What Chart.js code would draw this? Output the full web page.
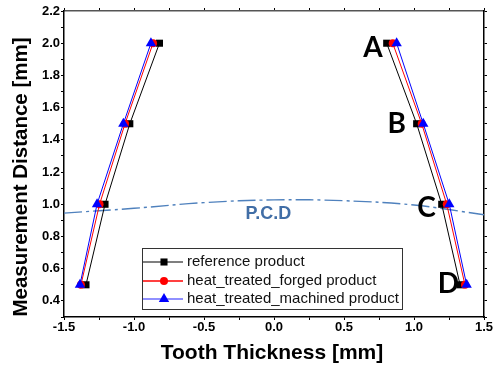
<!DOCTYPE html>
<html>
<head>
<meta charset="utf-8">
<script src="https://cdn.jsdelivr.net/npm/chart.js@4.4.1/dist/chart.umd.min.js"></script>
<style>
  html, body { margin: 0; padding: 0; background: #fff; }
  #wrap { width: 497px; height: 367px; position: relative; }
</style>
</head>
<body>
<div id="wrap"><canvas id="chart"></canvas></div>
<script>
// measurement levels (top to bottom) and tooth thickness readings, left and right flank
const yLevels = [2.0, 1.5, 1.0, 0.5];
const refLeft = [-0.818, -1.03, -1.207, -1.343];
const refRight = [0.805, 1.019, 1.198, 1.329];
const forgedLeft = [-0.864, -1.064, -1.246, -1.379];
const forgedRight = [0.848, 1.055, 1.234, 1.364];
const machinedLeft = [-0.879, -1.076, -1.264, -1.386];
const machinedRight = [0.876, 1.066, 1.252, 1.376];

// pitch circle trace
const pcdX = [-1.5, -1.0, -0.5, 0, 0.5, 1.0, 1.5];
const pcdY = [0.945, 0.975, 1.01, 1.027, 1.022, 0.995, 0.935];

// point labels
const letterText = ['A', 'B', 'C', 'D'];
const letterX = [0.707, 0.876, 1.09, 1.245];
const letterY = [1.97, 1.50, 0.975, 0.505];

const seriesNames = ['reference product', 'heat_treated_forged product', 'heat_treated_machined product'];

function flankPoints(left, right) {
    const pts = left.map((x, i) => ({ x, y: yLevels[i] }));
    pts.push({ x: 0, y: null });
    right.forEach((x, i) => pts.push({ x, y: yLevels[i] }));
    return pts;
}

const series = [
    { name: seriesNames[0], pts: flankPoints(refLeft, refRight), color: '#000000', legendLine: '#555555', style: 'rect', radius: 5, order: 3 },
    { name: seriesNames[1], pts: flankPoints(forgedLeft, forgedRight), color: '#ff0000', legendLine: '#ff0000', style: 'circle', radius: 4, order: 2 },
    { name: seriesNames[2], pts: flankPoints(machinedLeft, machinedRight), color: '#0000ff', legendLine: '#6b6bff', style: 'triangle', radius: 6, order: 1 },
];

const datasets = series.map(s => ({
    label: s.name,
    data: s.pts,
    borderColor: s.color,
    backgroundColor: s.color,
    borderWidth: 1,
    pointStyle: s.style,
    pointRadius: s.radius,
    pointBorderWidth: 0,
    spanGaps: false,
    tension: 0,
    order: s.order,
}));

datasets.push({
    label: 'P.C.D',
    data: pcdX.map((x, i) => ({ x, y: pcdY[i] })),
    borderColor: '#4f81bd',
    borderWidth: 1.4,
    borderDash: [18, 4, 3, 4],
    pointRadius: 0,
    tension: 0.4,
    order: 10,
});

const overlay = {
    id: 'overlay',
    afterDatasetsDraw(chart) {
        const { ctx, scales: { x, y } } = chart;
        ctx.save();

        // P.C.D label
        ctx.fillStyle = '#416ea6';
        ctx.font = 'bold 18px "Liberation Sans", Arial, sans-serif';
        ctx.textAlign = 'center';
        ctx.textBaseline = 'middle';
        ctx.fillText('P.C.D', x.getPixelForValue(-0.04), y.getPixelForValue(0.94));

        // A B C D
        ctx.fillStyle = '#000';
        ctx.font = 'bold 28px Lato, "Open Sans", sans-serif';
        letterText.forEach((t, i) => {
            ctx.fillText(t, x.getPixelForValue(letterX[i]), y.getPixelForValue(letterY[i]));
        });

        // legend box
        const bx = 142, by = 248, bw = 260, bh = 61;
        ctx.fillStyle = '#fff';
        ctx.fillRect(bx, by, bw, bh);
        ctx.strokeStyle = '#333';
        ctx.lineWidth = 1;
        ctx.strokeRect(bx + 0.5, by + 0.5, bw, bh);
        const rows = [262, 281, 299];
        series.forEach((s, i) => {
            const ry = rows[i];
            ctx.strokeStyle = s.legendLine;
            ctx.lineWidth = 1.5;
            ctx.beginPath();
            ctx.moveTo(bx + 1, ry);
            ctx.lineTo(bx + 41, ry);
            ctx.stroke();
            ctx.fillStyle = s.color;
            Chart.helpers.drawPoint(ctx, { pointStyle: s.style, radius: s.radius, borderWidth: 0 }, bx + 22, ry);
            ctx.fillStyle = '#111';
            ctx.font = '15px "Liberation Sans", Arial, sans-serif';
            ctx.textAlign = 'left';
            ctx.fillText(s.name, bx + 45, ry);
        });

        ctx.restore();
    },
    afterDraw(chart) {
        const { ctx } = chart;
        ctx.save();
        ctx.fillStyle = '#000';
        ctx.textAlign = 'center';
        ctx.textBaseline = 'middle';
        ctx.font = 'bold 21px "Liberation Sans", Arial, sans-serif';
        ctx.fillText('Tooth Thickness [mm]', 272, 353);
        ctx.translate(21, 177);
        ctx.rotate(-Math.PI / 2);
        ctx.font = 'bold 20.5px "Liberation Sans", Arial, sans-serif';
        ctx.fillText('Measurement Distance [mm]', 0, 0);
        ctx.restore();
    },
};

const tickFont = { family: '"Liberation Sans", Arial, sans-serif', size: 13, weight: 'bold' };
const gridStyle = { drawOnChartArea: false, tickLength: 3, color: '#000', tickColor: '#000' };
const borderStyle = { color: '#000', width: 1.5 };

new Chart(document.getElementById('chart'), {
    type: 'line',
    data: { datasets },
    plugins: [overlay],
    options: {
        responsive: true,
        maintainAspectRatio: false,
        animation: false,
        layout: { padding: 0 },
        plugins: { legend: { display: false }, tooltip: { enabled: false } },
        scales: {
            x: {
                type: 'linear',
                position: 'bottom',
                min: -1.5, max: 1.5,
                grid: gridStyle,
                border: borderStyle,
                ticks: {
                    stepSize: 0.25,
                    color: '#000',
                    font: tickFont,
                    padding: 0,
                    maxRotation: 0,
                    autoSkip: false,
                    callback: v => (Math.round(v * 4) % 2 === 0 ? v.toFixed(1) : ''),
                },
                afterFit: s => { s.height = 50; },
            },
            x2: {
                type: 'linear',
                position: 'top',
                min: -1.5, max: 1.5,
                grid: gridStyle,
                border: { color: '#555', width: 1.5 },
                ticks: { stepSize: 0.25, display: false },
                afterFit: s => { s.height = 11; },
            },
            y: {
                type: 'linear',
                position: 'left',
                min: 0.3, max: 2.2,
                grid: gridStyle,
                border: borderStyle,
                ticks: {
                    stepSize: 0.1,
                    color: '#000',
                    font: tickFont,
                    padding: 1,
                    autoSkip: false,
                    callback: v => {
                        const k = Math.round(v * 10);
                        return k % 2 === 0 ? (k / 10).toFixed(1) : '';
                    },
                },
                afterFit: s => { s.width = 64; },
            },
            y2: {
                type: 'linear',
                position: 'right',
                min: 0.3, max: 2.2,
                grid: gridStyle,
                border: borderStyle,
                ticks: { stepSize: 0.1, display: false },
                afterFit: s => { s.width = 13; },
            },
        },
    },
});
</script>
</body>
</html>
